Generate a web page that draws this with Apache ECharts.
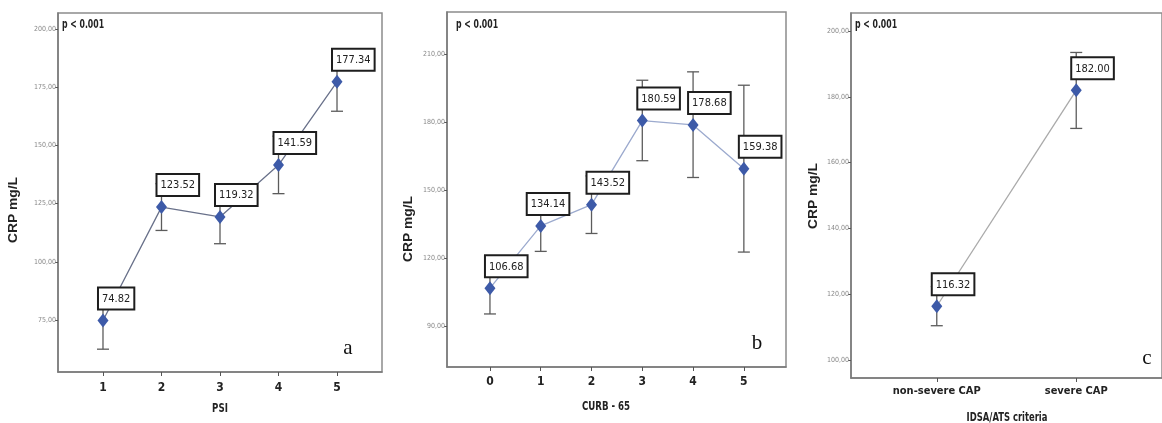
<!DOCTYPE html>
<html>
<head>
<meta charset="utf-8">
<script src="https://cdn.jsdelivr.net/npm/echarts@6/dist/echarts.min.js"></script>
<style>
  html, body { margin: 0; padding: 0; background: #fff; }
  #chart { width: 1162px; height: 423px; }
</style>
</head>
<body>
<div id="chart"></div>
<script>
// panel a: PSI
const psiCats = [1, 2, 3, 4, 5];
const psiMean = [74.82, 123.52, 119.32, 141.59, 177.34];
const psiLow = [62.5, 113.5, 107.8, 129.3, 164.7];
const psiHigh = [87.9, 133.6, 131.5, 154.0, 190.1];
const psiTicks = [75, 100, 125, 150, 175, 200];

// panel b: CURB-65
const curbCats = [0, 1, 2, 3, 4, 5];
const curbMean = [106.68, 134.14, 143.52, 180.59, 178.68, 159.38];
const curbLow = [95.3, 122.9, 130.8, 162.9, 155.5, 122.6];
const curbHigh = [118.2, 145.4, 156.2, 198.4, 202.1, 196.2];
const curbTicks = [90, 120, 150, 180, 210];

// panel c: IDSA/ATS
const idsaCats = ['non-severe CAP', 'severe CAP'];
const idsaMean = [116.32, 182.00];
const idsaLow = [110.4, 170.4];
const idsaHigh = [122.3, 193.5];
const idsaTicks = [100, 120, 140, 160, 180, 200];

const narrow = '"DejaVu Sans Condensed", "Liberation Sans Narrow", "Liberation Sans", sans-serif';

let panels = [
  {
    grid: { left: 58, top: 13, width: 324, height: 359 },
    xMin: 0.231, xMax: 5.769, yMin: 52.7, yMax: 206.9,
    xs: psiCats, xLabel: v => String(v), labelMargin: 10, labelSize: 12,
    mean: psiMean, low: psiLow, high: psiHigh, ticks: psiTicks,
    lineColor: '#69718a'
  },
  {
    grid: { left: 447, top: 12, width: 339, height: 355 },
    xMin: -0.846, xMax: 5.83, yMin: 71.9, yMax: 228.5,
    xs: curbCats, xLabel: v => String(v), labelMargin: 9, labelSize: 12,
    mean: curbMean, low: curbLow, high: curbHigh, ticks: curbTicks,
    lineColor: '#9caace'
  },
  {
    grid: { left: 851, top: 13, width: 319, height: 365 },
    xMin: -0.615, xMax: 1.615, yMin: 94.5, yMax: 205.5,
    xs: [0, 1], xLabel: v => idsaCats[v], labelMargin: 8, labelSize: 11,
    mean: idsaMean, low: idsaLow, high: idsaHigh, ticks: idsaTicks,
    lineColor: '#a9a9a9'
  }
];

function errorBar(params, api) {
  let top = api.coord([api.value(0), api.value(2)]);
  let bot = api.coord([api.value(0), api.value(1)]);
  let w = 6;
  let style = { stroke: '#5c5c5c', lineWidth: 1.3 };
  return {
    type: 'group',
    children: [
      { type: 'line', shape: { x1: top[0], y1: top[1], x2: bot[0], y2: bot[1] }, style: style },
      { type: 'line', shape: { x1: top[0] - w, y1: top[1], x2: top[0] + w, y2: top[1] }, style: style },
      { type: 'line', shape: { x1: bot[0] - w, y1: bot[1], x2: bot[0] + w, y2: bot[1] }, style: style }
    ]
  };
}

let grids = [], xAxes = [], yAxes = [], series = [];

panels.forEach((p, i) => {
  grids.push(Object.assign({
    show: true,
    borderColor: '#8c8c8c',
    borderWidth: 1.5,
    containLabel: false
  }, p.grid));

  xAxes.push({
    type: 'value',
    gridIndex: i,
    min: p.xMin,
    max: p.xMax,
    splitLine: { show: false },
    axisLine: { show: true, onZero: false, lineStyle: { color: '#7a7a7a', width: 1.5 } },
    axisTick: { show: true, customValues: p.xs, length: 4, lineStyle: { color: '#555' } },
    axisLabel: {
      customValues: p.xs,
      formatter: p.xLabel,
      margin: p.labelMargin,
      fontFamily: narrow,
      fontWeight: 'bold',
      fontSize: p.labelSize,
      color: '#222'
    }
  });

  yAxes.push({
    type: 'value',
    gridIndex: i,
    min: p.yMin,
    max: p.yMax,
    splitLine: { show: false },
    axisLine: { show: true, onZero: false, lineStyle: { color: '#7a7a7a', width: 1.5 } },
    axisTick: { show: true, customValues: p.ticks, length: 3, lineStyle: { color: '#555' } },
    axisLabel: {
      customValues: p.ticks,
      formatter: v => v.toFixed(2).replace('.', ','),
      margin: 2,
      fontFamily: narrow,
      fontSize: 7,
      color: '#888'
    }
  });

  // 误差线
  series.push({
    type: 'custom',
    xAxisIndex: i,
    yAxisIndex: i,
    z: 2,
    renderItem: errorBar,
    encode: { x: 0, y: [1, 2] },
    data: p.xs.map((x, k) => [x, p.low[k], p.high[k]])
  });

  // 均值折线
  series.push({
    type: 'line',
    xAxisIndex: i,
    yAxisIndex: i,
    z: 3,
    symbol: 'diamond',
    symbolSize: [11, 14],
    itemStyle: { color: '#3d5aa8' },
    lineStyle: { color: p.lineColor, width: 1.3 },
    label: {
      show: true,
      position: 'top',
      align: 'left',
      distance: 5,
      offset: [-4, 0],
      formatter: d => d.value[1].toFixed(2),
      backgroundColor: '#fff',
      borderColor: '#1e1e1e',
      borderWidth: 2,
      padding: [5, 3, 4, 3],
      fontFamily: narrow,
      fontSize: 11,
      color: '#222'
    },
    data: p.xs.map((x, k) => [x, p.mean[k]])
  });
});

// 134.14 的标签框偏左
series[3].data[1] = { value: series[3].data[1], label: { offset: [-13, 0] } };

function txt(x, y, text, style, extra) {
  return Object.assign({
    type: 'text',
    x: x,
    y: y,
    style: Object.assign({ text: text, align: 'center', verticalAlign: 'middle', fill: '#222' }, style)
  }, extra || {});
}

let boldNarrow = { font: 'bold 12px ' + narrow };
let pStyle = { font: 'bold 12px ' + narrow, align: 'left' };
let yName = { font: 'bold 12px "Liberation Sans", Arial, sans-serif' };
let letter = { font: '21px "Liberation Serif", "DejaVu Serif", serif', fill: '#111' };

let graphics = [
  txt(62, 25, 'p < 0.001', pStyle, { scaleX: 0.72 }),
  txt(456, 25, 'p < 0.001', pStyle, { scaleX: 0.72 }),
  txt(855, 25, 'p < 0.001', pStyle, { scaleX: 0.72 }),
  txt(220, 409, 'PSI', boldNarrow, { scaleX: 0.8 }),
  txt(606, 407, 'CURB - 65', boldNarrow, { scaleX: 0.8 }),
  txt(1007, 418, 'IDSA/ATS criteria', boldNarrow, { scaleX: 0.78 }),
  txt(14, 210, 'CRP mg/L', yName, { rotation: Math.PI / 2, scaleX: 1.15 }),
  txt(409, 229, 'CRP mg/L', yName, { rotation: Math.PI / 2, scaleX: 1.15 }),
  txt(814, 196, 'CRP mg/L', yName, { rotation: Math.PI / 2, scaleX: 1.15 }),
  txt(348, 348, 'a', letter),
  txt(757, 343, 'b', letter),
  txt(1147, 358, 'c', letter)
];

let chart = echarts.init(document.getElementById('chart'));
chart.setOption({
  animation: false,
  grid: grids,
  xAxis: xAxes,
  yAxis: yAxes,
  series: series,
  graphic: { elements: graphics }
});
</script>
</body>
</html>
